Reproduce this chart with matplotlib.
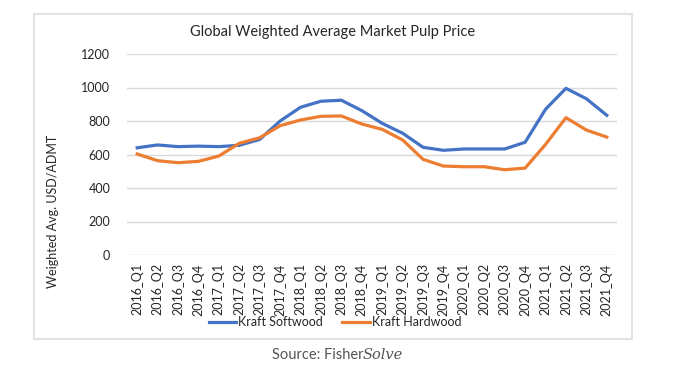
import matplotlib
matplotlib.use("Agg")
import matplotlib.pyplot as plt
from matplotlib.patches import Rectangle

quarters = [f"{y}_Q{q}" for y in range(2016, 2022) for q in range(1, 5)]
softwood = [640, 657, 647, 650, 647, 655, 690, 800, 882, 918, 924, 862,
            786, 727, 643, 625, 633, 633, 633, 673, 870, 995, 933, 834]
hardwood = [603, 563, 551, 559, 591, 667, 700, 772, 806, 828, 830, 782,
            750, 687, 571, 531, 527, 527, 509, 519, 660, 820, 746, 704]

W, H = 683, 383
fig = plt.figure(figsize=(W / 100, H / 100), dpi=100)
fig.patch.set_facecolor("white")
plt.rcParams['font.family'] = ['Lato', 'DejaVu Sans']

# border box
fig.add_artist(Rectangle((34 / W, 1 - 339 / H), (632 - 34) / W, (339 - 14) / H,
                         transform=fig.transFigure, fill=False,
                         edgecolor="#E2E2E2", linewidth=1.5))

ax = fig.add_axes([127 / W, 1 - 255 / H, (617 - 127) / W, (255 - 54) / H])
x = list(range(len(quarters)))
ax.plot(x, softwood, color="#4472C4", linewidth=2.3, label="Kraft Softwood")
ax.plot(x, hardwood, color="#ED7D31", linewidth=2.3, label="Kraft Hardwood")

ax.set_xlim(-0.5, len(quarters) - 0.5)
ax.set_ylim(0, 1200)
ax.set_yticks(range(0, 1201, 200))
ax.set_xticks(x)
ax.set_xticklabels(quarters, rotation=90, fontsize=9, color="#262626")
ax.tick_params(axis="y", labelsize=9, colors="#262626", length=0, pad=12)
ax.tick_params(axis="x", length=0, pad=6)
ax.grid(axis="y", color="#D9D9D9", linewidth=1)
ax.set_axisbelow(True)
for s in ax.spines.values():
    s.set_visible(False)

fig.text(333 / W, 1 - 32 / H, "Global Weighted Average Market Pulp Price",
         ha="center", va="center", fontsize=10.5, color="#262626")
fig.text(53 / W, 1 - 211 / H, "Weighted Avg. USD/ADMT", rotation=90,
         ha="center", va="center", fontsize=9, color="#262626")

leg = fig.legend(loc="center", bbox_to_anchor=(335 / W, 1 - 322 / H), ncol=2,
                 frameon=False, fontsize=9, handlelength=2.2, handletextpad=0.2,
                 columnspacing=1.5)
for t in leg.get_texts():
    t.set_color("#262626")

fig.text(363 / W, 1 - 355 / H, "Source: Fisher", ha="right", va="center",
         fontsize=10.5, color="#555555")
fig.text(363 / W, 1 - 355 / H, "Solve", ha="left", va="center",
         fontsize=10.5, color="#555555", style="italic", family="DejaVu Serif")

fig.savefig("out.png", dpi=100, facecolor="white")
